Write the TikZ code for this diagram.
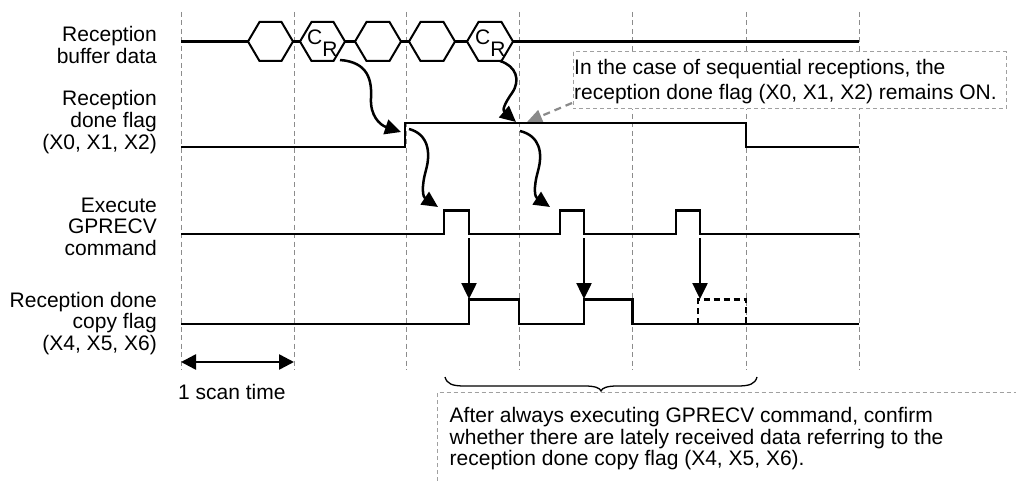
\documentclass[tikz,border=0pt]{standalone}
\usepackage{fontspec}
\setmainfont{Liberation Sans}
\usetikzlibrary{arrows.meta}
\definecolor{gridgray}{HTML}{8C8C8C}
\definecolor{boxgray}{HTML}{A0A0A0}
\definecolor{arrgray}{HTML}{8A8A8A}
\newcommand\mlines[2]{\begin{tabular}[t]{@{}#1@{}}#2\end{tabular}}
\newcommand\hexcell[2]{\draw[hexline] (#1,41.5) -- (#1+11.5,22) -- (#2-11.5,22) -- (#2,41.5) -- (#2-11.5,61) -- (#1+11.5,61) -- cycle;}
\begin{document}
\begin{tikzpicture}[x=1pt,y=-1pt,
  gridline/.style={draw=gridgray, line width=1pt, dash pattern=on 5pt off 3.5pt},
  sig/.style={line width=2.2pt},
  hexline/.style={line width=2pt},
  wavy/.style={line width=2.5pt, -{Triangle[length=16pt,width=15pt]}},
  drop/.style={line width=2.5pt, -{Triangle[length=16pt,width=15pt]}},
  scanarrow/.style={line width=2.5pt, {Triangle[length=15pt,width=15pt]}-{Triangle[length=15pt,width=15pt]}},
  callout/.style={draw=boxgray, line width=1pt, dash pattern=on 4pt off 3pt},
  grayarrow/.style={draw=arrgray, line width=2.2pt, dash pattern=on 7pt off 5pt, -{Triangle[length=15pt,width=13pt,fill=arrgray]}},
  lab/.style={font=\fontsize{21}{21.2}\selectfont, inner sep=0pt},
  labwide/.style={font=\fontsize{21}{25}\selectfont, inner sep=0pt},
  labbot/.style={font=\fontsize{21}{21}\selectfont, inner sep=0pt},
]
\fill[white] (0,0) rectangle (1016,481);
\useasboundingbox (0,0) rectangle (1016,481);

% grid
\foreach \gx in {181,294,406,519,632,746,859}
  \draw[gridline] (\gx,12) -- (\gx,370);

% callout 1
\draw[callout, fill=white] (573,52) rectangle (1006,109);
\node[labwide, anchor=base west] (ctop) at (574,75) {\mlines{l}{In the case of sequential receptions, the\\reception done flag (X0, X1, X2) remains ON.}};
\coordinate (cotail) at (572,103);
\coordinate (cotip) at (527,122);
\draw[grayarrow] (cotail) -- (cotip);

% labels
\node[lab, anchor=base east] (lbuf) at (157,41.7) {\mlines{r}{Reception\\buffer data}};
\node[lab, anchor=base east] (lflag) at (157,106) {\mlines{r}{Reception\\done flag\\(X0, X1, X2)}};
\node[lab, anchor=base east] (lexec) at (157,212.7) {\mlines{r}{Execute\\GPRECV\\command}};
\node[lab, anchor=base east] (lcopy) at (157,307.3) {\mlines{r}{Reception done\\copy flag\\(X4, X5, X6)}};

% signal 1: buffer data
\draw[sig] (181,41.5) -- (248,41.5);
\draw[sig] (293,41.5) -- (300,41.5);
\draw[sig] (345,41.5) -- (355,41.5);
\draw[sig] (401,41.5) -- (409,41.5);
\draw[sig] (455,41.5) -- (467,41.5);
\draw[sig] (513,41.5) -- (859,41.5);
\hexcell{248}{293}
\hexcell{300}{345}
\hexcell{355}{401}
\hexcell{409}{455}
\hexcell{467}{513}
\node[lab, anchor=base west] (cr1) at (307,44.7) {C\raisebox{-12pt}{R}};
\node[lab, anchor=base west] (cr2) at (475,44.7) {C\raisebox{-12pt}{R}};

% signal 2: reception done flag
\draw[sig] (181,147) -- (405,147) -- (405,123) -- (746,123) -- (746,147) -- (859,147);

% signal 3: GPRECV
\draw[sig] (181,234) -- (444,234) -- (444,210.5) -- (469,210.5) -- (469,234)
  -- (560,234) -- (560,210.5) -- (584,210.5) -- (584,234)
  -- (676,234) -- (676,210.5) -- (700,210.5) -- (700,234) -- (859,234);

% signal 4: copy flag
\draw[sig] (181,324) -- (469,324) -- (469,299.5) -- (519,299.5) -- (519,324)
  -- (584,324) -- (584,299.5) -- (632.5,299.5) -- (632.5,324) -- (859,324);
\draw[sig, dash pattern=on 6pt off 4pt] (698,324) -- (698,299.5) -- (746,299.5) -- (746,324);

% wavy arrows
\coordinate (wa0) at (340,60);   \coordinate (wa1) at (401,132);
\coordinate (wb0) at (500,61);   \coordinate (wb1) at (516,122);
\coordinate (wc0) at (409,129);  \coordinate (wc1) at (438,207);
\coordinate (wd0) at (520,131);  \coordinate (wd1) at (550,207);
\draw[wavy] (wa0) .. controls (368,62) and (372,80) .. (371,98) .. controls (370,116) and (380,125) .. (wa1);
\draw[wavy] (wb0) .. controls (516,66) and (521,80) .. (512,93) .. controls (505,103) and (502,110) .. (wb1);
\draw[wavy] (wc0) .. controls (428,134) and (431,152) .. (426,170) .. controls (421,188) and (423,197) .. (wc1);
\draw[wavy] (wd0) .. controls (540,136) and (543,153) .. (538,171) .. controls (533,189) and (535,197) .. (wd1);

% drop arrows
\coordinate (d1a) at (469,238); \coordinate (d1b) at (469,299);
\coordinate (d2a) at (584,238); \coordinate (d2b) at (584,299);
\coordinate (d3a) at (700,238); \coordinate (d3b) at (700,299);
\draw[drop] (d1a) -- (d1b);
\draw[drop] (d2a) -- (d2b);
\draw[drop] (d3a) -- (d3b);

% scan time
\coordinate (s0) at (181,362); \coordinate (s1) at (294,362);
\draw[scanarrow] (s0) -- (s1);
\node[lab, anchor=base west] (scan) at (178,399) {1 scan time};

% brace
\draw[line width=1.3pt] (445,377) .. controls (447,384) and (452,386) .. (465,386) -- (585,386)
  .. controls (595,386) and (600,388) .. (601,391) .. controls (602,388) and (607,386) .. (617,386)
  -- (737,386) .. controls (750,386) and (755,384) .. (757,377);

% bottom callout
\draw[callout] (437.5,481) -- (437.5,392) -- (1016,392);
\node[labbot, anchor=base west] (cbot) at (449.5,422.7) {\mlines{l}{After always executing GPRECV command, confirm\\whether there are lately received data referring to the\\reception done copy flag (X4, X5, X6).}};
\end{tikzpicture}
\end{document}
